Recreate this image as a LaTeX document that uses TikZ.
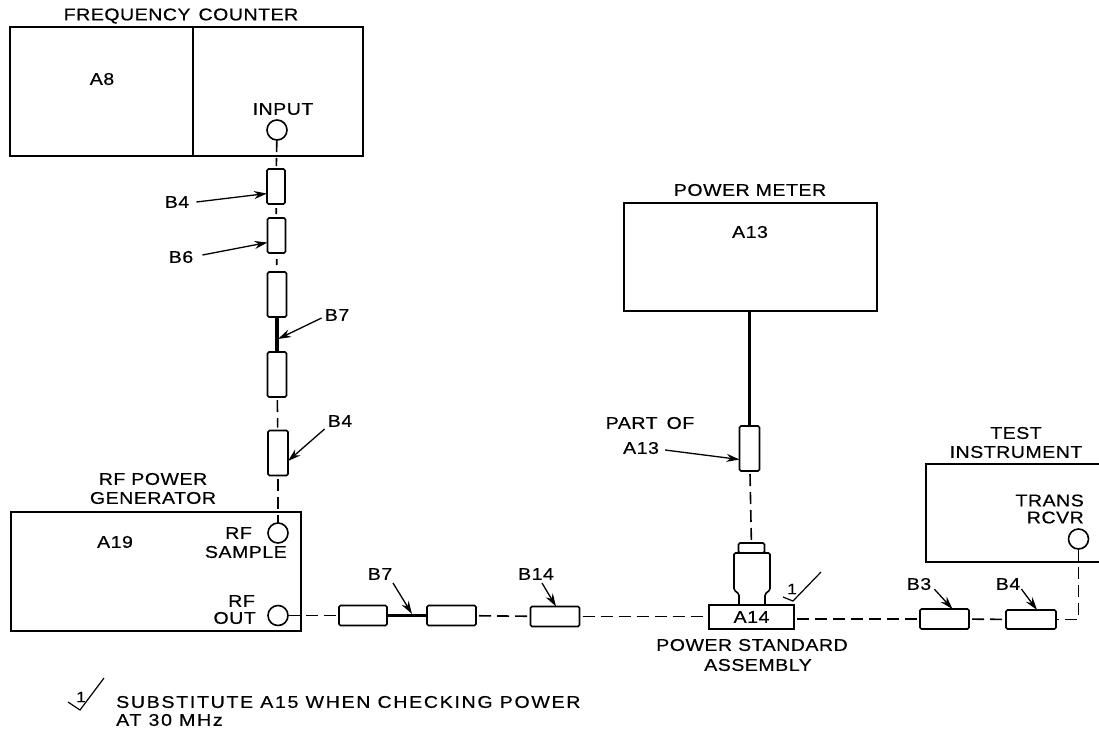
\documentclass[tikz,border=0pt]{standalone}
\usepackage{fontspec}
\setmainfont[FakeStretch=1.15,LetterSpace=3,FakeBold=0.5]{Liberation Sans}
\usetikzlibrary{arrows.meta}
\tikzset{
 x=1pt,y=-1pt,
 lw/.style={line width=1.6pt},
 unitbox/.style={draw,lw,inner sep=0pt,outer sep=0pt},
 conn/.style={draw,lw,rounded corners=1.5pt,inner sep=0pt,outer sep=0pt},
 port/.style={draw,lw,circle,minimum size=20pt,inner sep=0pt,outer sep=0pt},
 lbl/.style={inner sep=1pt,font=\fontsize{17}{17}\selectfont,align=center},
 dashline/.style={lw,dash pattern=on 12pt off 6pt,shorten <=3pt,shorten >=3pt},
 cable/.style={line width=3.2pt},
 pointer/.style={line width=1.3pt,-{Stealth[length=13pt,width=8pt]}},
}
\begin{document}
\begin{tikzpicture}
\useasboundingbox (0,0) rectangle (1099,728);
% Frequency counter
\node[unitbox,minimum width=353pt,minimum height=129pt] (fc) at (186.5,91.5) {};
\draw[lw] (193,27) -- (193,156);
\node[lbl] (fclabel) at (181,16) {FREQUENCY\hspace{8pt}COUNTER};
\node[lbl] (a8) at (102,79) {A8};
\node[lbl] (input) at (283,109) {INPUT};
\node[port] (inp) at (277,130) {};
% vertical chain
\node[conn,minimum width=18pt,minimum height=35pt] (b4a) at (276,186.5) {};
\node[conn,minimum width=18pt,minimum height=35pt] (b6) at (276.5,235.5) {};
\node[conn,minimum width=19pt,minimum height=45pt] (b7a) at (277,294.5) {};
\node[conn,minimum width=19pt,minimum height=45pt] (b7b) at (277,374.5) {};
\node[conn,minimum width=20pt,minimum height=45pt] (b4b) at (278,453) {};
\draw[dashline,shorten <=0pt] (inp) -- (b4a);
\draw[dashline,dash pattern=on 6pt off 6pt,shorten <=4pt] (b4a) -- (b6);
\draw[dashline,dash pattern=on 6pt off 6pt,shorten <=6pt] (b6) -- (b7a);
\draw[cable] (b7a) -- (b7b);
\draw[dashline] (b7b) -- (b4b);
\node[lbl] (lb4a) at (177,202) {B4};
\node[lbl] (lb6) at (181,257) {B6};
\node[lbl] (lb7a) at (337,315) {B7};
\node[lbl] (lb4b) at (340,421) {B4};
\draw[pointer] (lb4a.east) ++(6,0) -- ([yshift=-7pt]b4a.west);
\draw[pointer] (lb6.east) ++(8,-2) -- ([yshift=-7pt]b6.west);
\coordinate (b7amid) at (278,339);
\draw[pointer] (lb7a.west) ++(-2,3) -- (b7amid);
\draw[pointer] (lb4b.west) ++(-2,8) -- ([yshift=-8pt]b4b.east);
% RF generator
\node[unitbox,minimum width=290pt,minimum height=119pt] (gen) at (156,571.5) {};
\node[lbl] (genlabel) at (153,488.5) {RF POWER\\[2pt]GENERATOR};
\node[lbl] (a19) at (115,542) {A19};
\node[port] (rfs) at (278,533) {};
\node[port] (rfo) at (278,615.5) {};
\node[lbl,anchor=east] (rf1) at (253,533) {RF};
\node[lbl,anchor=east] (samp) at (288,552) {SAMPLE};
\node[lbl,anchor=east] (rf2) at (256,601) {RF};
\node[lbl,anchor=east] (out) at (257,618) {OUT};
\draw[dashline,shorten >=0pt] (b4b) -- (rfs);
% lower chain
\node[conn,minimum width=48pt,minimum height=20pt] (b7c) at (363,615.5) {};
\node[conn,minimum width=49pt,minimum height=20pt] (b7d) at (451.5,615.5) {};
\node[conn,minimum width=49pt,minimum height=20pt] (b14) at (555,616.5) {};
\node[unitbox,lbl,inner sep=0pt,minimum width=85pt,minimum height=24pt] (a14) at (751.5,617) {A14};
\node[conn,minimum width=49pt,minimum height=20pt] (b3) at (944.5,619) {};
\node[conn,minimum width=50pt,minimum height=19pt] (b4c) at (1031,619.5) {};
\draw[dashline,shorten <=0pt] (rfo) -- (b7c);
\draw[cable] (b7c) -- (b7d);
\draw[dashline] (b7d) -- (b14);
\draw[dashline] (b14.east) -- (b14.east -| a14.west);
\draw[dashline] (a14.east |- b3.west) -- (b3.west);
\draw[dashline] (b3) -- (b4c);
\node[lbl] (lb7c) at (380,574) {B7};
\node[lbl] (lb14) at (536,574) {B14};
\node[lbl] (lb3) at (919,584) {B3};
\node[lbl] (lb4c) at (1008,584) {B4};
\coordinate (b7cmid) at (412,614);
\draw[pointer] (393,583) -- (b7cmid);
\draw[pointer] (lb14.south) ++(6,2) -- ([xshift=1pt]b14.north);
\draw[pointer] (lb3.south east) ++(2,-2) -- ([xshift=8pt]b3.north);
\draw[pointer] (lb4c.south east) ++(0,-2) -- ([xshift=6pt]b4c.north);
% Power meter
\node[unitbox,minimum width=253pt,minimum height=108pt] (pm) at (750.5,257) {};
\node[lbl] (pmlabel) at (750,190) {POWER METER};
\node[lbl] (a13) at (750,232) {A13};
\node[conn,minimum width=20pt,minimum height=45pt] (part) at (749.5,448.5) {};
\draw[cable] (pm.south -| part) -- (part);
\node[lbl] (partlabel) at (650,423) {PART\hspace{9pt}OF};
\node[lbl] (a13b) at (641,448) {A13};
\draw[pointer] (a13b.east) ++(5,2) -- ([yshift=-11pt]part.west);
% power sensor
\node[conn,minimum width=26pt,minimum height=10pt] (cap) at (751.5,548) {};
\draw[lw,rounded corners=1.5pt] (739,605) -- (739,594) -- (734,590) -- (734,553) -- (770,553) -- (770,590) -- (765,594) -- (765,605);
\draw[dashline,shorten >=0pt] (part) -- (cap);
% Test instrument
\draw[lw] (1099,464) -- (926,464) -- (926,562) -- (1099,562);
\node[lbl] (tilabel) at (1016,442.5) {TEST\\[2pt]INSTRUMENT};
\node[lbl,anchor=east,align=right] (tr) at (1085,509) {TRANS\\[0pt]RCVR};
\node[port] (trp) at (1078.5,539) {};
\coordinate (corner) at (trp |- b4c);
\draw[lw,dash pattern=on 12pt off 6pt] (trp) -- (corner) -- (b4c);
% notes
\node[lbl,align=center] (pslabel) at (752,655) {POWER STANDARD\\[3pt]\hspace*{12pt}ASSEMBLY};
\coordinate (ck1a) at (783,597);
\coordinate (ck1b) at (793,601);
\coordinate (ck1c) at (821,572);
\draw[line width=1.2pt] (ck1a) -- (ck1b) -- (ck1c);
\node[inner sep=0pt,font=\fontsize{15}{15}\selectfont] (ck1) at (792,589) {1};
\coordinate (ck2a) at (68,702);
\coordinate (ck2b) at (80,710);
\coordinate (ck2c) at (104,678);
\draw[line width=1.2pt] (ck2a) -- (ck2b) -- (ck2c);
\node[inner sep=0pt,font=\fontsize{15}{15}\selectfont] (ck2) at (81,697) {1};
\node[lbl,anchor=west,align=left,font=\fontsize{17}{17}\selectfont\addfontfeature{LetterSpace=10}] (note) at (115,711) {SUBSTITUTE A15 WHEN CHECKING POWER\\[1pt]AT 30 MHz};
\end{tikzpicture}
\end{document}
